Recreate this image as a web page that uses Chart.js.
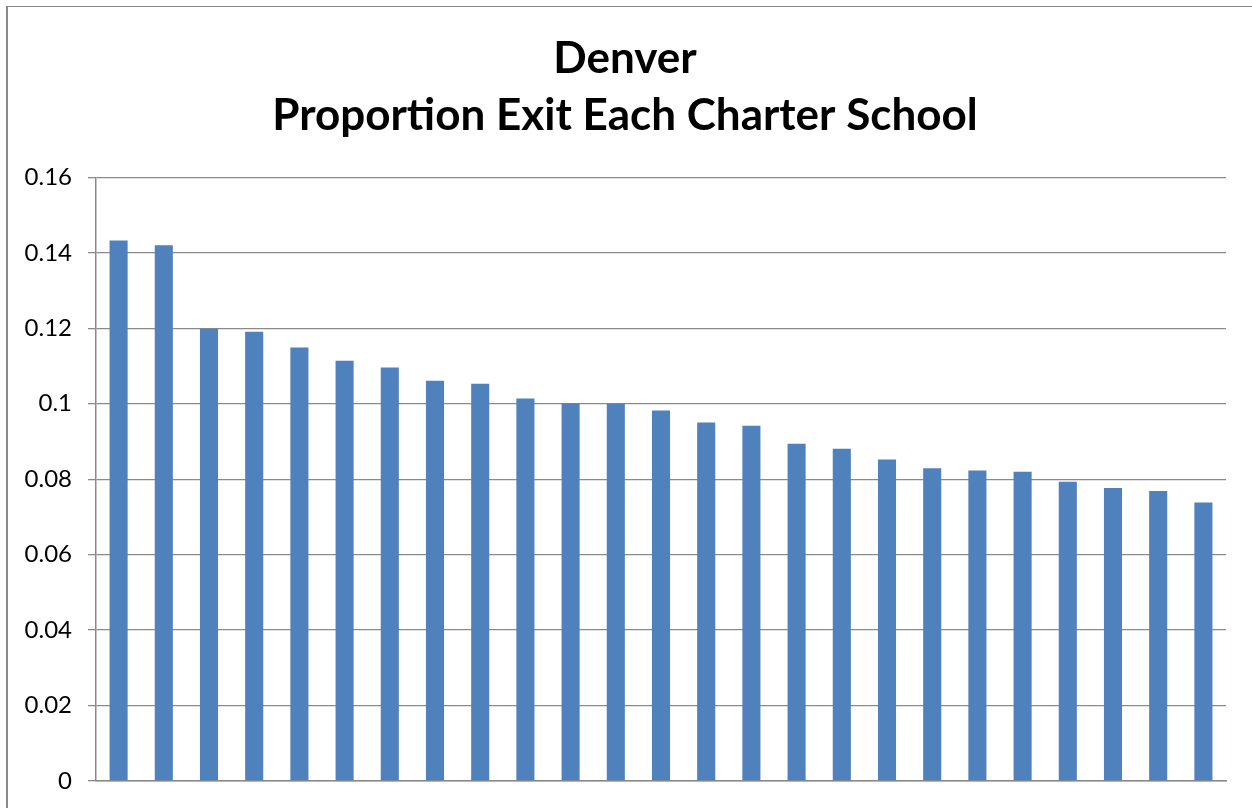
<!DOCTYPE html>
<html>
<head>
<meta charset="utf-8">
<script src="https://cdn.jsdelivr.net/npm/chart.js@4"></script>
<style>
  html, body { margin: 0; padding: 0; background: #fff; }
  #frame {
    position: absolute; left: 6px; top: 6px; right: 0; bottom: 0;
    border-left: 2px solid #8a8a8a; border-top: 1px solid #8a8a8a;
  }
  #wrap { position: absolute; left: 0; top: 0; width: 1252px; height: 808px; }
</style>
</head>
<body>
<div id="frame"></div>
<div id="wrap"><canvas id="chart" width="1252" height="808"></canvas></div>
<script>
// Charter schools, sorted by exit proportion (names are not shown in the chart)
const schools = ['1', '2', '3', '4', '5', '6', '7', '8', '9', '10', '11', '12', '13',
                 '14', '15', '16', '17', '18', '19', '20', '21', '22', '23', '24', '25'];

const exitProportion = [0.1433, 0.1420, 0.1199, 0.1191, 0.1149, 0.1114, 0.1096, 0.1061,
                        0.1053, 0.1014, 0.1001, 0.1000, 0.0982, 0.0950, 0.0942, 0.0894,
                        0.0881, 0.0852, 0.0829, 0.0823, 0.0820, 0.0793, 0.0777, 0.0769,
                        0.0738];

const yTicks = [0, 0.02, 0.04, 0.06, 0.08, 0.1, 0.12, 0.14, 0.16];

const gridColor = '#8a8a8a';
const barColor = '#4f81bd';
const fontFamily = 'Lato, "Open Sans", sans-serif';

const ctx = document.getElementById('chart').getContext('2d');

new Chart(ctx, {
    type: 'bar',
    data: {
        labels: schools,
        datasets: [{
            data: exitProportion,
            backgroundColor: barColor,
            borderWidth: 0,
            barPercentage: 0.4,
            categoryPercentage: 1.0
        }]
    },
    options: {
        responsive: false,
        animation: false,
        layout: {
            // small left offset nudges the title towards the original centre
            padding: { top: 30, right: 26, bottom: 19, left: 24 }
        },
        plugins: {
            legend: { display: false },
            tooltip: { enabled: false },
            title: {
                display: true,
                text: ['Denver', 'Proportion Exit Each Charter School'],
                color: '#000',
                font: { family: fontFamily, size: 44, weight: 'bold', lineHeight: 1.3 },
                padding: { top: 0, bottom: 33 }
            }
        },
        scales: {
            x: {
                ticks: { display: false },
                grid: { display: false },
                border: { display: true, color: gridColor, width: 1.5 }
            },
            y: {
                min: 0,
                max: 0.16,
                afterBuildTicks: (scale) => {
                    scale.ticks = yTicks.map(v => ({ value: v }));
                },
                afterFit: (scale) => {
                    scale.width = 72;
                },
                ticks: {
                    color: '#000',
                    padding: 16,
                    // tight line height so the "0" label doesn't push the axis up
                    font: { family: fontFamily, size: 24, lineHeight: 0.8 },
                    callback: (v) => String(v)
                },
                grid: {
                    color: gridColor,
                    lineWidth: 1.3,
                    tickLength: 8
                },
                border: { display: true, color: gridColor, width: 1.5 }
            }
        }
    }
});
</script>
</body>
</html>
